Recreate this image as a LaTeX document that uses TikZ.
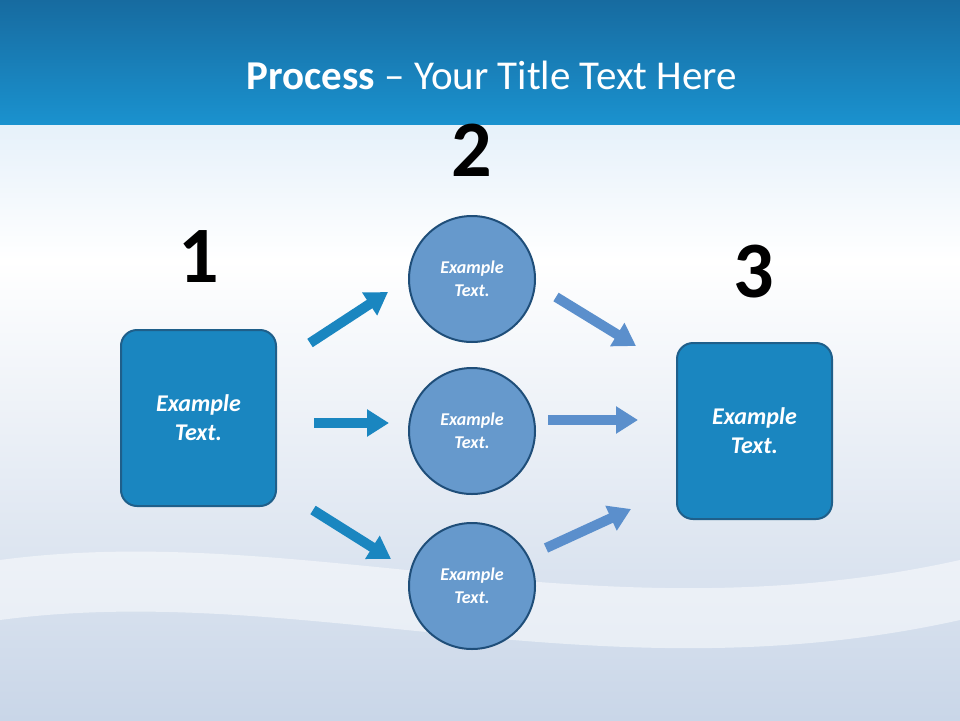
\documentclass[tikz,border=0pt]{standalone}
\usepackage{fontspec}
\setmainfont{Carlito}
\usetikzlibrary{arrows.meta}
\definecolor{boxblue}{HTML}{1A86C0}
\definecolor{boxedge}{HTML}{1F5F8A}
\definecolor{circ}{HTML}{6699CC}
\definecolor{circedge}{HTML}{1F4E79}
\definecolor{arrA}{HTML}{1A86C0}
\definecolor{arrB}{HTML}{5B8FCC}
\definecolor{topdark}{HTML}{176BA0}
\definecolor{topmid}{HTML}{1A92CF}
\definecolor{palebg}{HTML}{E6F1FA}
\definecolor{wave}{HTML}{C9D6E8}
\tikzset{
 sqbox/.style={draw=boxedge,line width=2pt,fill=boxblue,rounded corners=16pt,minimum width=155pt,minimum height=176pt,text=white,font=\bfseries\itshape\fontsize{24}{29}\selectfont,align=center},
 cbox/.style={circle,draw=circedge,line width=2pt,fill=circ,minimum size=126pt,text=white,font=\bfseries\itshape\fontsize{18}{23}\selectfont,align=center},
 num/.style={font=\bfseries\fontsize{80}{80}\selectfont},
 barA/.style={line width=10pt,arrA,-{Triangle[length=22pt,width=26pt]}},
 barB/.style={line width=10pt,arrB,-{Triangle[length=22pt,width=26pt]}},
}
\begin{document}
\begin{tikzpicture}[x=1pt,y=-1pt]
\useasboundingbox (0,0) rectangle (960,720);
\shade[top color=topdark,bottom color=topmid] (0,0) rectangle (960,125);
\shade[top color=palebg,bottom color=white] (0,125) rectangle (960,260);
\shade[top color=white,bottom color=wave] (0,260) rectangle (960,720);
\fill[white,opacity=0.5] (0,560) .. controls (300,520) and (600,640) .. (960,560) -- (960,620) .. controls (600,700) and (300,580) .. (0,620) -- cycle;
\node[text=white,font=\fontsize{41}{45}\selectfont] (title) at (492,75) {\textbf{Process} -- Your Title Text Here};
\node[num] (n1) at (199,257) {1};
\node[num] (n2) at (472,150) {2};
\node[num] (n3) at (754,272) {3};
\node[sqbox] (b1) at (198.5,418) {Example\\Text.};
\node[sqbox] (b3) at (754.5,431) {Example\\Text.};
\node[cbox] (c1) at (472,279) {Example\\Text.};
\node[cbox] (c2) at (472,431) {Example\\Text.};
\node[cbox] (c3) at (472,586) {Example\\Text.};
\coordinate (a1s) at (310,343); \coordinate (a1e) at (388,292);
\coordinate (a2s) at (314,423); \coordinate (a2e) at (389,423);
\coordinate (a3s) at (313,510); \coordinate (a3e) at (391,559);
\coordinate (a4s) at (556,297); \coordinate (a4e) at (636,346);
\coordinate (a5s) at (548,420); \coordinate (a5e) at (638,420);
\coordinate (a6s) at (546,548); \coordinate (a6e) at (631,509);
\draw[barA] (a1s) -- (a1e);
\draw[barA] (a2s) -- (a2e);
\draw[barA] (a3s) -- (a3e);
\draw[barB] (a4s) -- (a4e);
\draw[barB] (a5s) -- (a5e);
\draw[barB] (a6s) -- (a6e);
\end{tikzpicture}
\end{document}
